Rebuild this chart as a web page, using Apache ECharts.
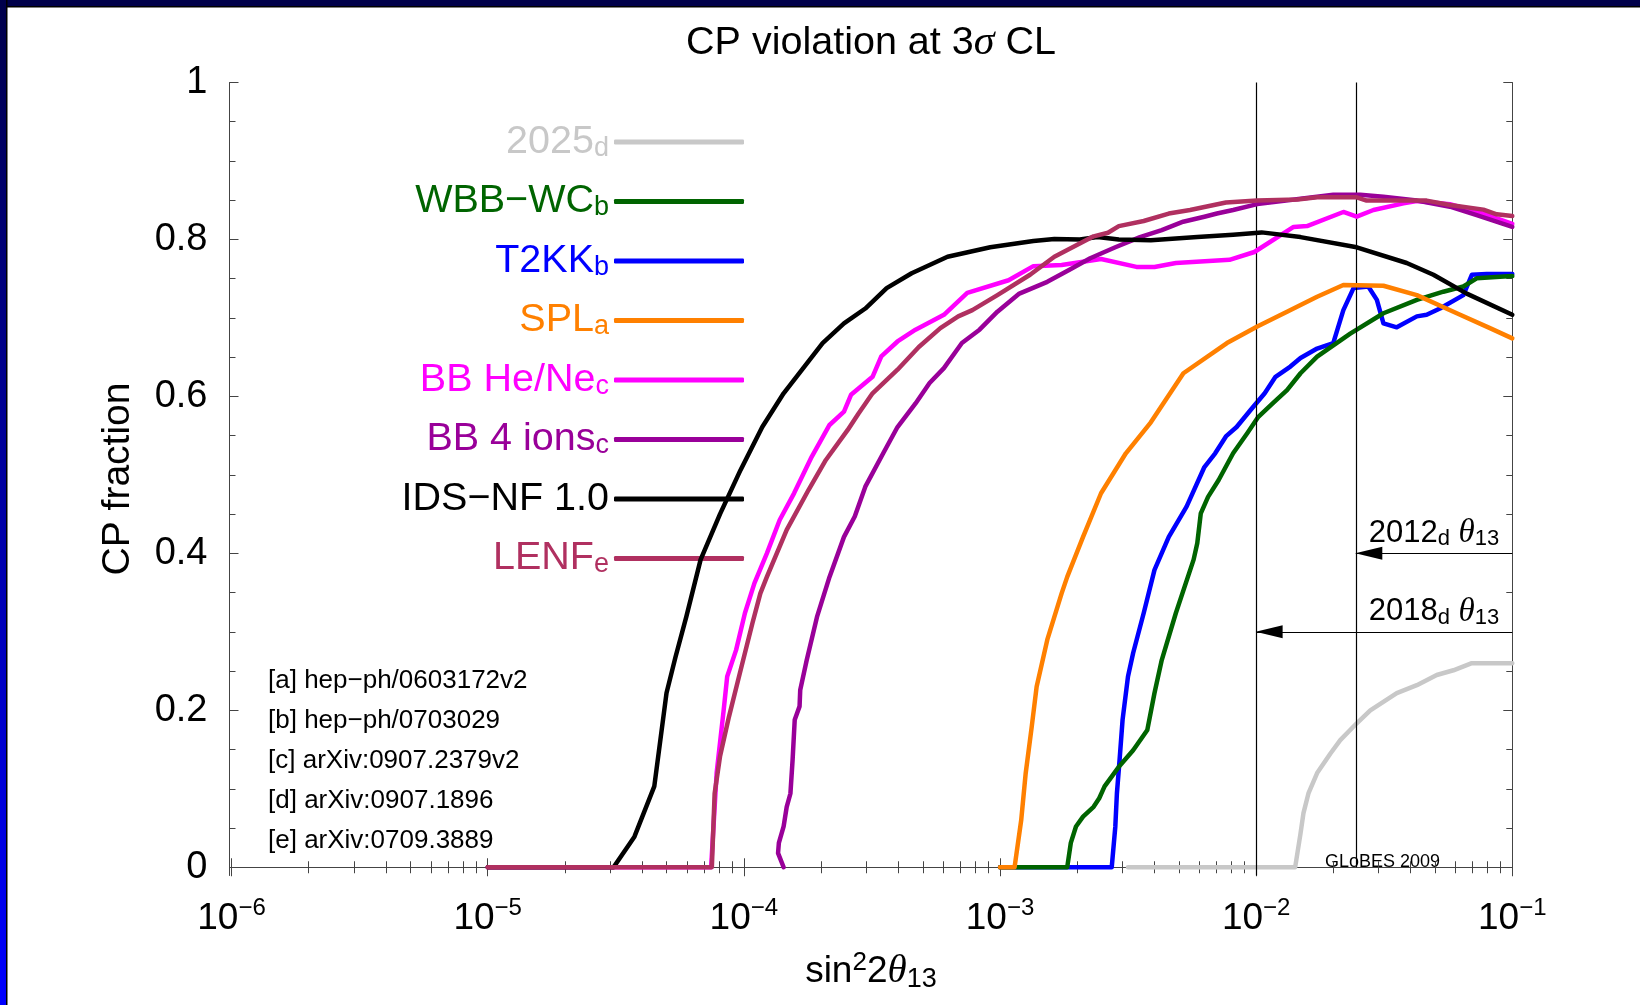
<!DOCTYPE html>
<html>
<head>
<meta charset="utf-8">
<script src="https://cdn.jsdelivr.net/npm/echarts@6/dist/echarts.min.js"></script>
<style>
html,body{margin:0;padding:0;background:#ffffff;}
#chart{width:1640px;height:1005px;}
</style>
</head>
<body>
<div id="chart"></div>
<script>
// ---------------- data ----------------
const seriesNames  = ['2025', 'WBB\u2212WC', 'T2KK', 'SPL', 'BB He/Ne', 'BB 4 ions', 'IDS\u2212NF 1.0', 'LENF'];
const seriesRefs   = ['d', 'b', 'b', 'a', 'c', 'c', '', 'e'];
const seriesColors = ['#c8c8c8', '#006400', '#0000ff', '#ff8000', '#ff00ff', '#990099', '#000000', '#b03060'];

const x2025 = [3.16e-3, 1.42e-2, 1.49e-2, 1.53e-2, 1.60e-2, 1.73e-2, 1.95e-2, 2.13e-2, 2.47e-2, 2.79e-2, 3.54e-2, 4.24e-2, 5.07e-2, 5.89e-2, 6.95e-2, 0.1];
const y2025 = [0, 0, 0.043, 0.069, 0.094, 0.120, 0.145, 0.162, 0.1835, 0.200, 0.222, 0.232, 0.245, 0.251, 0.260, 0.260];

const xWBB = [1.0e-3, 1.83e-3, 1.89e-3, 1.98e-3, 2.11e-3, 2.32e-3, 2.44e-3, 2.56e-3, 2.91e-3, 3.31e-3, 3.76e-3, 4.01e-3, 4.28e-3, 4.86e-3, 5.70e-3, 5.89e-3, 6.08e-3, 6.49e-3, 7.14e-3, 8.13e-3, 9.23e-3, 1.02e-2, 1.16e-2, 1.32e-2, 1.49e-2, 1.73e-2, 2.33e-2, 3.14e-2, 4.24e-2, 5.38e-2, 6.44e-2, 7.26e-2, 8.95e-2, 0.1];
const yWBB = [0, 0, 0.031, 0.052, 0.0645, 0.077, 0.088, 0.103, 0.128, 0.149, 0.175, 0.222, 0.264, 0.324, 0.392, 0.413, 0.451, 0.472, 0.4935, 0.5275, 0.553, 0.574, 0.591, 0.608, 0.6295, 0.6506, 0.680, 0.706, 0.723, 0.7334, 0.740, 0.7505, 0.7526, 0.7534];

const xT2KK = [1.0e-3, 2.73e-3, 2.82e-3, 2.86e-3, 2.93e-3, 3.01e-3, 3.16e-3, 3.31e-3, 3.64e-3, 4.01e-3, 4.56e-3, 5.35e-3, 6.28e-3, 6.92e-3, 7.62e-3, 8.39e-3, 9.53e-3, 1.08e-2, 1.19e-2, 1.36e-2, 1.49e-2, 1.73e-2, 2.00e-2, 2.19e-2, 2.40e-2, 2.74e-2, 2.96e-2, 3.14e-2, 3.54e-2, 4.24e-2, 4.63e-2, 5.22e-2, 6.44e-2, 6.95e-2, 7.94e-2, 0.1];
const yT2KK = [0, 0, 0.052, 0.094, 0.137, 0.188, 0.243, 0.273, 0.324, 0.379, 0.421, 0.4595, 0.510, 0.5275, 0.549, 0.561, 0.583, 0.604, 0.625, 0.638, 0.649, 0.661, 0.668, 0.710, 0.738, 0.740, 0.723, 0.693, 0.688, 0.702, 0.704, 0.712, 0.729, 0.755, 0.756, 0.756];

const xSPL = [1.0e-3, 1.14e-3, 1.21e-3, 1.26e-3, 1.33e-3, 1.39e-3, 1.53e-3, 1.74e-3, 1.83e-3, 2.11e-3, 2.48e-3, 3.10e-3, 3.88e-3, 5.20e-3, 7.69e-3, 1.01e-2, 1.32e-2, 1.73e-2, 2.19e-2, 3.14e-2, 4.24e-2, 6.07e-2, 8.18e-2, 0.1];
const ySPL = [0, 0, 0.060, 0.120, 0.179, 0.230, 0.290, 0.349, 0.370, 0.421, 0.4766, 0.5275, 0.567, 0.6295, 0.668, 0.689, 0.708, 0.727, 0.742, 0.741, 0.729, 0.706, 0.687, 0.674];

const xHeNe = [1.0e-5, 7.45e-5, 7.83e-5, 8.34e-5, 8.61e-5, 9.33e-5, 1.01e-4, 1.10e-4, 1.23e-4, 1.38e-4, 1.57e-4, 1.84e-4, 2.16e-4, 2.46e-4, 2.62e-4, 3.18e-4, 3.44e-4, 3.98e-4, 4.68e-4, 6.04e-4, 7.45e-4, 1.08e-3, 1.35e-3, 1.74e-3, 2.48e-3, 3.41e-3, 4.01e-3, 4.86e-3, 7.87e-3, 9.84e-3, 1.40e-2, 1.58e-2, 2.19e-2, 2.47e-2, 2.87e-2, 3.76e-2, 4.24e-2, 5.71e-2, 7.71e-2, 0.1];
const yHeNe = [0, 0, 0.120, 0.200, 0.243, 0.277, 0.324, 0.362, 0.400, 0.4425, 0.4765, 0.523, 0.5636, 0.5805, 0.602, 0.625, 0.651, 0.670, 0.685, 0.704, 0.732, 0.748, 0.766, 0.7675, 0.775, 0.765, 0.765, 0.770, 0.774, 0.784, 0.816, 0.817, 0.835, 0.829, 0.8375, 0.846, 0.849, 0.845, 0.833, 0.820];

const xFourIons = [1.43e-4, 1.36e-4, 1.37e-4, 1.43e-4, 1.47e-4, 1.52e-4, 1.55e-4, 1.58e-4, 1.65e-4, 1.66e-4, 1.76e-4, 1.93e-4, 2.16e-4, 2.46e-4, 2.71e-4, 2.98e-4, 3.50e-4, 3.98e-4, 4.68e-4, 5.31e-4, 6.04e-4, 7.10e-4, 8.32e-4, 9.77e-4, 1.19e-3, 1.53e-3, 1.86e-3, 2.25e-3, 2.82e-3, 3.52e-3, 4.28e-3, 5.19e-3, 6.28e-3, 7.03e-3, 8.13e-3, 1.01e-2, 1.49e-2, 2.00e-2, 2.55e-2, 3.14e-2, 4.24e-2, 5.71e-2, 7.26e-2, 0.1];
const yFourIons = [0, 0.018, 0.031, 0.052, 0.077, 0.094, 0.137, 0.188, 0.205, 0.226, 0.264, 0.319, 0.370, 0.421, 0.447, 0.485, 0.5275, 0.561, 0.591, 0.617, 0.636, 0.668, 0.685, 0.708, 0.731, 0.746, 0.761, 0.776, 0.790, 0.803, 0.812, 0.8226, 0.829, 0.833, 0.8375, 0.845, 0.852, 0.857, 0.857, 0.8545, 0.8495, 0.8417, 0.831, 0.816];

const xIDS = [1.0e-5, 3.10e-5, 3.74e-5, 4.47e-5, 4.99e-5, 5.41e-5, 5.96e-5, 6.78e-5, 8.07e-5, 9.70e-5, 1.18e-4, 1.43e-4, 2.03e-4, 2.46e-4, 2.98e-4, 3.61e-4, 4.52e-4, 6.24e-4, 9.16e-4, 1.35e-3, 1.63e-3, 2.05e-3, 2.40e-3, 2.91e-3, 3.88e-3, 5.89e-3, 8.13e-3, 1.05e-2, 1.49e-2, 2.47e-2, 3.87e-2, 4.92e-2, 6.64e-2, 0.1];
const yIDS = [0, 0, 0.039, 0.103, 0.222, 0.268, 0.319, 0.392, 0.450, 0.506, 0.561, 0.604, 0.668, 0.693, 0.712, 0.738, 0.757, 0.778, 0.790, 0.798, 0.8006, 0.800, 0.803, 0.800, 0.799, 0.803, 0.806, 0.809, 0.803, 0.790, 0.770, 0.755, 0.731, 0.704];

const xLENF = [1.0e-5, 7.50e-5, 7.69e-5, 8.07e-5, 8.75e-5, 9.64e-5, 1.08e-4, 1.16e-4, 1.23e-4, 1.47e-4, 1.79e-4, 2.09e-4, 2.54e-4, 2.80e-4, 3.18e-4, 3.98e-4, 4.82e-4, 5.85e-4, 6.87e-4, 7.80e-4, 9.77e-4, 1.31e-3, 1.63e-3, 2.32e-3, 2.64e-3, 2.91e-3, 3.64e-3, 4.56e-3, 5.52e-3, 7.62e-3, 1.01e-2, 1.45e-2, 1.73e-2, 2.47e-2, 2.70e-2, 4.63e-2, 5.71e-2, 7.71e-2, 8.69e-2, 0.1];
const yLENF = [0, 0, 0.094, 0.141, 0.192, 0.247, 0.311, 0.349, 0.370, 0.430, 0.481, 0.519, 0.557, 0.578, 0.604, 0.634, 0.663, 0.687, 0.702, 0.710, 0.729, 0.755, 0.778, 0.804, 0.8086, 0.817, 0.8235, 0.833, 0.8375, 0.847, 0.8495, 0.851, 0.8537, 0.8537, 0.8495, 0.8495, 0.844, 0.838, 0.832, 0.830];

// theta13 limit markers
const limitX      = [0.0245, 0.01];     // 2012_d, 2018_d
const limitArrowY = [0.40, 0.30];
const limitYears  = ['2012', '2018'];

// axes
const xAxisMin = Math.pow(10, -6.008);
const xAxisMax = 0.1;
const yAxisMin = -0.0105;
const yAxisMax = 1;
const xMajorTicks = [1e-6, 1e-5, 1e-4, 1e-3, 1e-2, 1e-1];
const xTickExponents = ['\u22126', '\u22125', '\u22124', '\u22123', '\u22122', '\u22121'];
const xMinorTicks = [];
[1e-6, 1e-5, 1e-4, 1e-3, 1e-2].forEach(d => { [2,3,4,5,6,7,8,9].forEach(m => xMinorTicks.push(+(m * d).toPrecision(3))); });
const yMajorTicks = [0, 0.2, 0.4, 0.6, 0.8, 1];
const yMinorTicks = [0.05, 0.1, 0.15, 0.25, 0.3, 0.35, 0.45, 0.5, 0.55, 0.65, 0.7, 0.75, 0.85, 0.9, 0.95];

const refNotes = ['[a] hep\u2212ph/0603172v2', '[b] hep\u2212ph/0703029', '[c] arXiv:0907.2379v2', '[d] arXiv:0907.1896', '[e] arXiv:0709.3889'];

// ---------------- chart ----------------
const SANS = 'Liberation Sans';
const SERIF = 'Liberation Serif';
const frameColor = '#444';

const seriesData = [
  [x2025, y2025], [xWBB, yWBB], [xT2KK, yT2KK], [xSPL, ySPL],
  [xHeNe, yHeNe], [xFourIons, yFourIons], [xIDS, yIDS], [xLENF, yLENF]
];
// drawing order (bottom -> top)
const drawOrder = [0, 2, 1, 3, 4, 5, 6, 7];

function pairs(xs, ys) { return xs.map((x, i) => [x, ys[i]]); }

function arrowLine(k) {
  return [
    {coord: [limitX[k], limitArrowY[k]], symbol: 'triangle', symbolSize: [13, 27], symbolOffset: [0, 13]},
    {coord: [xAxisMax, limitArrowY[k]], symbol: 'none',
     label: {
       show: true, position: 'insideEndTop', distance: [13, 3],
       fontFamily: SANS, fontSize: 31, lineHeight: 34, color: '#000',
       formatter: limitYears[k] + '{s|d} {t|\u03b8}{s|13}',
       rich: {
         s: {fontFamily: SANS, fontSize: 22, lineHeight: 20, verticalAlign: 'bottom', color: '#000'},
         t: {fontFamily: SERIF, fontStyle: 'italic', fontSize: 33, lineHeight: 34, color: '#000'}
       }
     }}
  ];
}

const series = drawOrder.map((i, n) => ({
  type: 'line',
  name: seriesNames[i],
  data: pairs(seriesData[i][0], seriesData[i][1]),
  xAxisIndex: 0, yAxisIndex: 0,
  showSymbol: false, symbol: 'none',
  smooth: false, animation: false, silent: true,
  emphasis: {disabled: true},
  z: 2 + n,
  itemStyle: {color: seriesColors[i]},
  lineStyle: {color: seriesColors[i], width: 4.5, cap: 'round', join: 'round'}
}));

// attach reference lines to the last series
series[series.length - 1].markLine = {
  silent: true, animation: false,
  symbol: ['none', 'none'],
  lineStyle: {color: '#000', width: 1.2, type: 'solid'},
  label: {show: false},
  emphasis: {disabled: true},
  data: [
    [{coord: [limitX[1], yAxisMin]}, {coord: [limitX[1], yAxisMax]}],
    [{coord: [limitX[0], 0]}, {coord: [limitX[0], yAxisMax]}],
    arrowLine(0),
    arrowLine(1)
  ]
};

function xAxisDef(pos, ticks, len, withLabels, withLine) {
  return {
    type: 'log', logBase: 10, position: pos, gridIndex: 0,
    min: xAxisMin, max: xAxisMax,
    axisLine: {show: withLine, lineStyle: {color: frameColor, width: 1}},
    axisTick: {show: true, inside: true, length: len, customValues: ticks, lineStyle: {color: frameColor, width: 1}},
    minorTick: {show: false},
    splitLine: {show: false},
    axisLabel: withLabels ? {
      show: true, customValues: xMajorTicks, margin: 21,
      formatter: function (v) {
        let k = 0, best = 1e9;
        xMajorTicks.forEach((t, j) => { const d = Math.abs(Math.log10(t) - Math.log10(v)); if (d < best) { best = d; k = j; } });
        return '{b|10}{s|' + xTickExponents[k] + '}';
      },
      fontFamily: SANS, fontSize: 37, lineHeight: 44, color: '#000',
      rich: {
        b: {fontFamily: SANS, fontSize: 37, lineHeight: 44, color: '#000'},
        s: {fontFamily: SANS, fontSize: 24, lineHeight: 16, verticalAlign: 'top', color: '#000'}
      }
    } : {show: false},
    name: withLabels ? 'sin{sp|2}2{th|\u03b8}{sb|13}' : '',
    nameLocation: 'middle', nameGap: 74, nameMoveOverlap: false,
    nameTextStyle: {
      fontFamily: SANS, fontSize: 37, lineHeight: 44, color: '#000',
      rich: {
        sp: {fontFamily: SANS, fontSize: 26, lineHeight: 30, verticalAlign: 'top', color: '#000'},
        th: {fontFamily: SERIF, fontStyle: 'italic', fontSize: 39, lineHeight: 44, color: '#000'},
        sb: {fontFamily: SANS, fontSize: 27, lineHeight: 20, verticalAlign: 'bottom', color: '#000'}
      }
    }
  };
}

function yAxisDef(pos, ticks, len, withLabels, withLine) {
  return {
    type: 'value', position: pos, gridIndex: 0,
    min: yAxisMin, max: yAxisMax,
    axisLine: {show: withLine, onZero: false, lineStyle: {color: frameColor, width: 1}},
    axisTick: {show: true, inside: true, length: len, customValues: ticks, lineStyle: {color: frameColor, width: 1}},
    minorTick: {show: false},
    splitLine: {show: false},
    axisLabel: withLabels ? {
      show: true, customValues: yMajorTicks, margin: 22,
      fontFamily: SANS, fontSize: 38, color: '#000'
    } : {show: false},
    name: withLabels ? 'CP fraction' : '',
    nameLocation: 'middle', nameGap: 89, nameMoveOverlap: false,
    nameTextStyle: {fontFamily: SANS, fontSize: 39, lineHeight: 44, color: '#000'}
  };
}

const legendOrder = [0, 1, 2, 3, 4, 5, 6, 7];

const option = {
  animation: false,
  backgroundColor: '#ffffff',
  title: {
    text: 'CP violation at 3{i|\u03c3} CL',
    left: 871, top: 21, textAlign: 'center', padding: 0,
    textStyle: {
      fontFamily: SANS, fontSize: 39.5, fontWeight: 'normal', color: '#000', lineHeight: 44,
      rich: {
        i: {fontFamily: SERIF, fontStyle: 'italic', fontSize: 42, lineHeight: 44, color: '#000'}
      }
    }
  },
  grid: {left: 229.5, right: 127.7, top: 82.5, bottom: 129.5, containLabel: false, outerBoundsMode: 'none'},
  legend: {
    orient: 'vertical', align: 'right', right: 896, top: 122, padding: 0,
    itemWidth: 130, itemHeight: 5, itemGap: 19.5, icon: 'roundRect',
    selectedMode: false,
    data: legendOrder.map(i => ({name: seriesNames[i], textStyle: {color: seriesColors[i]}})),
    formatter: function (name) {
      const r = seriesRefs[seriesNames.indexOf(name)];
      return r ? name + '{s|' + r + '}' : name;
    },
    textStyle: {
      fontFamily: SANS, fontSize: 39.5, lineHeight: 40,
      rich: {s: {fontFamily: SANS, fontSize: 27, lineHeight: 20, verticalAlign: 'bottom', color: 'inherit'}}
    }
  },
  xAxis: [
    xAxisDef('bottom', xMajorTicks, 9, true, true),
    xAxisDef('bottom', xMinorTicks, 6, false, false),
    xAxisDef('top', xMajorTicks, 9, false, true),
    xAxisDef('top', xMinorTicks, 6, false, false)
  ],
  yAxis: [
    yAxisDef('left', yMajorTicks, 9, true, true),
    yAxisDef('left', yMinorTicks, 6, false, false),
    yAxisDef('right', yMajorTicks, 9, false, true),
    yAxisDef('right', yMinorTicks, 6, false, false)
  ],
  series: series,
  graphic: [
    {type: 'rect', silent: true, z: 100, shape: {x: 0, y: 0, width: 1640, height: 6}, style: {fill: '#00004a'}},
    {type: 'rect', silent: true, z: 100, shape: {x: 0, y: 6, width: 1640, height: 1.5}, style: {fill: '#000000'}},
    {type: 'rect', silent: true, z: 101, shape: {x: 0, y: 0, width: 6, height: 1005},
      style: {fill: new echarts.graphic.LinearGradient(0, 0, 0, 1, [{offset: 0, color: '#00004a'}, {offset: 1, color: '#0000ff'}])}},
    {type: 'rect', silent: true, z: 101, shape: {x: 6, y: 0, width: 1.5, height: 1005}, style: {fill: '#000000'}},
    {type: 'text', silent: true, left: 268, top: 661,
      style: {text: refNotes.join('\n'), font: '26px "Liberation Sans"', lineHeight: 40, fill: '#000'}},
    {type: 'text', silent: true, left: 1325, top: 853,
      style: {text: 'GLoBES 2009', font: '18px "Liberation Sans"', fill: '#000'}}
  ]
};

const chart = echarts.init(document.getElementById('chart'), null, {renderer: 'canvas'});
chart.setOption(option);
</script>
</body>
</html>
